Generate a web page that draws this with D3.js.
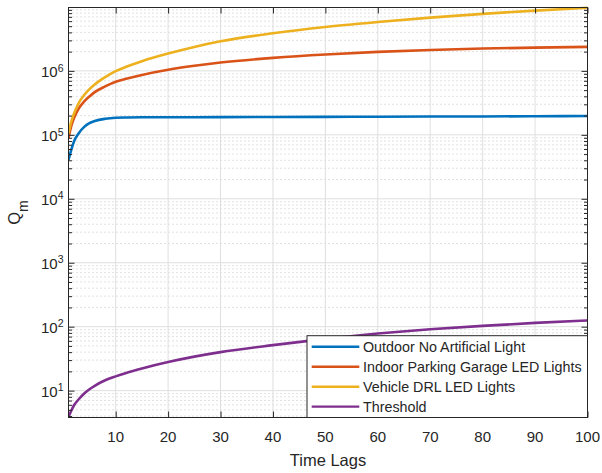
<!DOCTYPE html>
<html>
<head>
<meta charset="utf-8">
<script src="https://cdn.jsdelivr.net/npm/d3@7/dist/d3.min.js"></script>
<style>
  html, body { margin: 0; padding: 0; background: #fff; }
  svg { display: block; }
  text { font-family: "Liberation Sans", Arial, Helvetica, sans-serif; fill: #262626; }
</style>
</head>
<body>
<svg id="chart" width="602" height="473"></svg>
<script>
// ---- data ----
const lags = [1, 1.5, 2, 3, 4, 5, 6, 8, 10, 12, 15, 20, 25, 30, 40, 50, 60, 70, 80, 90, 100];
const outdoor = [4.06e4, 5.7e4, 7.7e4, 1.07e5, 1.33e5, 1.52e5, 1.64e5, 1.78e5, 1.85e5, 1.87e5, 1.88e5, 1.88e5, 1.885e5, 1.89e5, 1.9e5, 1.91e5, 1.92e5, 1.93e5, 1.94e5, 1.955e5, 1.97e5];
const indoor = [8.85e4, 1.34e5, 1.78e5, 2.62e5, 3.33e5, 3.99e5, 4.65e5, 5.71e5, 6.76e5, 7.53e5, 8.65e5, 1.042e6, 1.202e6, 1.349e6, 1.596e6, 1.807e6, 1.982e6, 2.123e6, 2.234e6, 2.312e6, 2.371e6];
const vehicle = [1.06e5, 1.58e5, 2.1e5, 3.2e5, 4.2e5, 5.2e5, 6.15e5, 8.0e5, 9.9e5, 1.16e6, 1.42e6, 1.87e6, 2.37e6, 2.9e6, 3.87e6, 4.85e6, 5.8e6, 6.8e6, 7.8e6, 8.75e6, 9.7e6];
const threshold = [3.85, 4.8, 5.8, 7.4, 9.0, 10.5, 11.9, 14.5, 16.7, 18.9, 22.2, 28, 34, 40, 51.5, 64.5, 78, 91, 103, 114.5, 125];
const seriesNames = ["Outdoor No Artificial Light", "Indoor Parking Garage LED Lights", "Vehicle DRL LED Lights", "Threshold"];
const seriesColors = ["#0072BD", "#D95319", "#EDB120", "#7E2F8E"];
const xTicks = [10, 20, 30, 40, 50, 60, 70, 80, 90, 100];
const yDecades = [1, 2, 3, 4, 5, 6];
const xDomain = [1, 100];
const yDomain = [3.8, 9.8e6];

const seriesValues = [outdoor, indoor, vehicle, threshold];

// ---- layout ----
const L = 68.5, R = 587.5, T = 7.5, B = 417.5;
const svg = d3.select("#chart");
const x = d3.scaleLinear().domain(xDomain).range([L, R]);
const y = d3.scaleLog().domain(yDomain).range([B, T]);
const axisColor = "#262626";

// minor y values
const yMinor = [];
for (let k = 0; k <= 7; k++) {
  for (let m = 2; m <= 9; m++) {
    const v = m * Math.pow(10, k);
    if (v >= yDomain[0] && v <= yDomain[1]) yMinor.push(v);
  }
}
const yMajor = yDecades.map(e => Math.pow(10, e));

// background
svg.append("rect").attr("x", L).attr("y", T).attr("width", R - L).attr("height", B - T).attr("fill", "#fff");

// minor grid (dotted)
svg.append("g").selectAll("line").data(yMinor).join("line")
  .attr("x1", L).attr("x2", R)
  .attr("y1", d => y(d)).attr("y2", d => y(d))
  .attr("stroke", "#c4c4c4").attr("stroke-width", 1)
  .attr("stroke-dasharray", "1,3");

// major grid
svg.append("g").selectAll("line").data(yMajor).join("line")
  .attr("x1", L).attr("x2", R)
  .attr("y1", d => y(d)).attr("y2", d => y(d))
  .attr("stroke", "#dfdfdf").attr("stroke-width", 1);
svg.append("g").selectAll("line").data(xTicks).join("line")
  .attr("x1", d => x(d)).attr("x2", d => x(d))
  .attr("y1", T).attr("y2", B)
  .attr("stroke", "#dfdfdf").attr("stroke-width", 1);

// clip
svg.append("clipPath").attr("id", "clip").append("rect")
  .attr("x", L).attr("y", T - 2).attr("width", R - L).attr("height", B - T + 2);

const line = d3.line().x(d => x(d[0])).y(d => y(d[1])).curve(d3.curveMonotoneX);
const gLines = svg.append("g").attr("clip-path", "url(#clip)");
seriesValues.forEach((vals, i) => {
  gLines.append("path")
    .datum(lags.map((l, j) => [l, vals[j]]))
    .attr("d", line)
    .attr("fill", "none")
    .attr("stroke", seriesColors[i])
    .attr("stroke-width", 2.6)
    .attr("stroke-linejoin", "round");
});

// axes via d3 axis generators (inward ticks)
const fmtNone = () => "";
svg.append("g").attr("transform", `translate(0,${B})`)
  .call(d3.axisTop(x).tickValues(xTicks).tickSize(6).tickFormat(fmtNone))
  .call(g => { g.select(".domain").remove(); g.selectAll("line").attr("stroke", axisColor); });
svg.append("g").attr("transform", `translate(0,${T})`)
  .call(d3.axisBottom(x).tickValues(xTicks).tickSize(6).tickFormat(fmtNone))
  .call(g => { g.select(".domain").remove(); g.selectAll("line").attr("stroke", axisColor); });
[[L, d3.axisRight], [R, d3.axisLeft]].forEach(([pos, ax]) => {
  svg.append("g").attr("transform", `translate(${pos},0)`)
    .call(ax(y).tickValues(yMajor).tickSize(6).tickFormat(fmtNone))
    .call(g => { g.select(".domain").remove(); g.selectAll("line").attr("stroke", axisColor); });
  svg.append("g").attr("transform", `translate(${pos},0)`)
    .call(ax(y).tickValues(yMinor).tickSize(3.5).tickFormat(fmtNone))
    .call(g => { g.select(".domain").remove(); g.selectAll("line").attr("stroke", axisColor); });
});

// box
svg.append("rect").attr("x", L).attr("y", T).attr("width", R - L).attr("height", B - T)
  .attr("fill", "none").attr("stroke", axisColor).attr("stroke-width", 1);

// x tick labels
svg.append("g").selectAll("text").data(xTicks).join("text")
  .attr("x", d => x(d)).attr("y", 442)
  .attr("text-anchor", "middle").attr("font-size", 15)
  .text(d => d);

// y tick labels
const yl = svg.append("g").selectAll("text").data(yDecades).join("text")
  .attr("x", 63.5).attr("y", d => y(Math.pow(10, d)) + 6.3)
  .attr("text-anchor", "end");
yl.append("tspan").attr("font-size", 15).text("10");
yl.append("tspan").attr("font-size", 10.5).attr("dy", -5.6).text(d => d);

// axis labels
svg.append("text").attr("x", (L + R) / 2).attr("y", 466)
  .attr("text-anchor", "middle").attr("font-size", 16.5).text("Time Lags");
const ql = svg.append("text").attr("transform", `translate(20,${(T + B) / 2}) rotate(-90)`)
  .attr("text-anchor", "middle");
ql.append("tspan").attr("font-size", 16.5).text("Q");
ql.append("tspan").attr("font-size", 14).attr("dy", 8).text("m");

// legend
const lg = svg.append("g");
lg.append("rect").attr("x", 307).attr("y", 335.7).attr("width", R - 307).attr("height", B - 335.7)
  .attr("fill", "#fff").attr("stroke", axisColor).attr("stroke-width", 1);
seriesNames.forEach((name, i) => {
  const yy = 346.8 + i * 19.95;
  lg.append("line").attr("x1", 311.7).attr("x2", 359.3).attr("y1", yy).attr("y2", yy)
    .attr("stroke", seriesColors[i]).attr("stroke-width", 2.4);
  lg.append("text").attr("x", 363).attr("y", yy + 5).attr("font-size", 14.3).text(name);
});
</script>
</body>
</html>
